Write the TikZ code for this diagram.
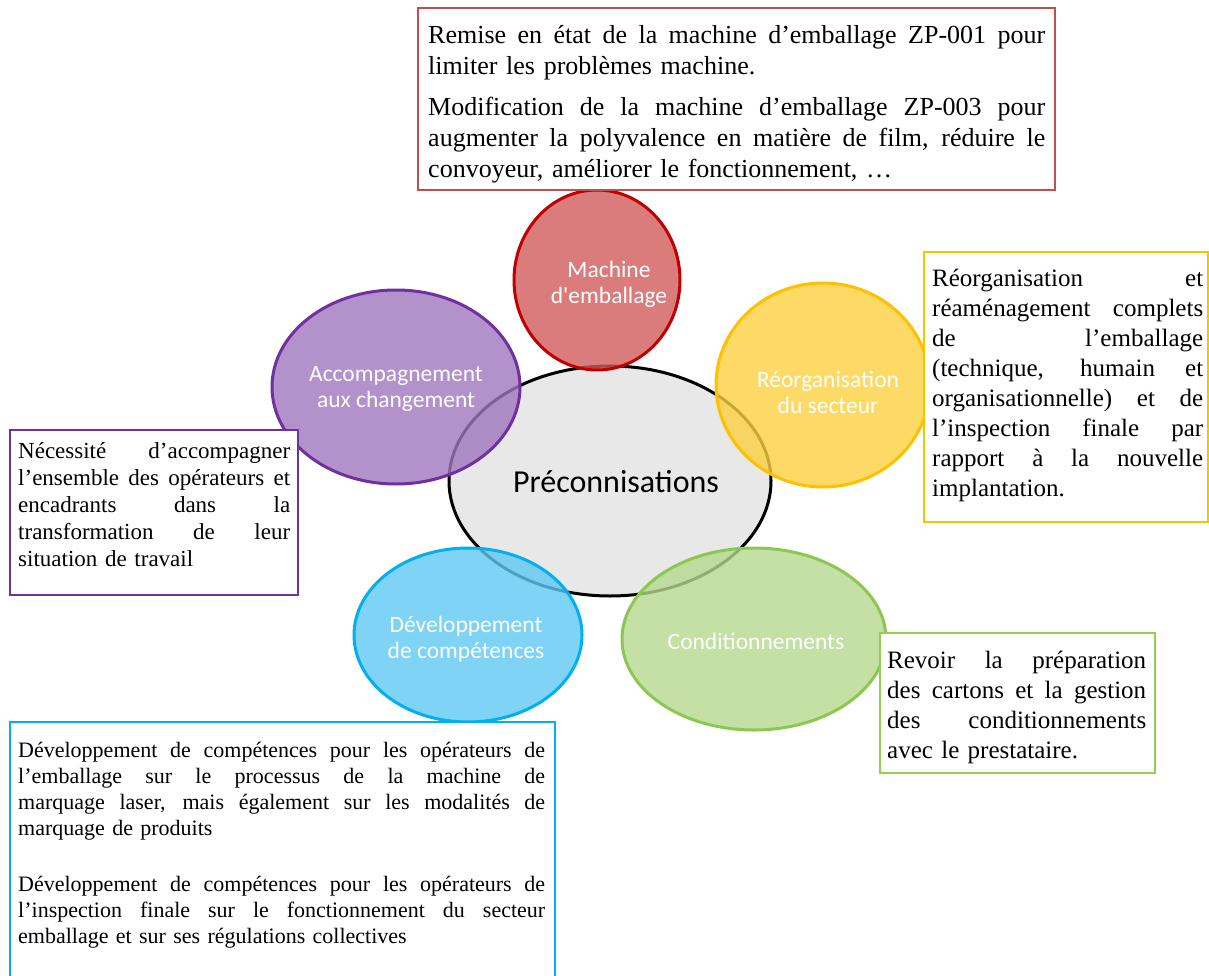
\documentclass[tikz,border=0pt]{standalone}
\usepackage{fontspec}
\setmainfont{Liberation Serif}
\newfontfamily\calibri{Carlito}
\usetikzlibrary{shapes.geometric}
\newlength\jw
\newcommand{\fline}[1]{\hbox to\jw{\spaceskip=0pt\xspaceskip=0pt #1}\par}
\newcommand{\jline}[1]{\par\noindent\hbox to\jw{\spaceskip=0pt\xspaceskip=0pt #1}\par}
\newcommand{\lline}[1]{\par\noindent\hbox{#1}\par}
\definecolor{cRedE}{HTML}{C00000}
\definecolor{cRedF}{RGB}{209,91,91}
\definecolor{cPurE}{HTML}{7030A0}
\definecolor{cPurF}{RGB}{160,119,191}
\definecolor{cYelE}{HTML}{FFC000}
\definecolor{cYelF}{RGB}{253,208,64}
\definecolor{cBluE}{HTML}{00B0F0}
\definecolor{cBluF}{RGB}{95,200,241}
\definecolor{cGreE}{HTML}{8CC751}
\definecolor{cGreF}{RGB}{181,216,141}
\definecolor{cCenF}{HTML}{E8E8E8}
\definecolor{bRed}{HTML}{C0504D}
\definecolor{bPur}{HTML}{7030A0}
\definecolor{bYel}{HTML}{FFC000}
\definecolor{bGre}{HTML}{92D050}
\definecolor{bBlu}{HTML}{00B0F0}
\tikzset{
  bubble/.style={ellipse, inner sep=0pt, line width=3pt, fill opacity=0.8},
  bubbletext/.style={inner sep=0pt, text=white, align=center, font=\calibri\fontsize{23.5}{26}\selectfont},
  framebox/.style={draw, line width=2.5pt, fill=white},
  txt/.style={anchor=base west, inner sep=0pt}
}
\begin{document}
\begin{tikzpicture}[x=1pt,y=-1pt]
\useasboundingbox (0,0) rectangle (1209,976);
% centre
\node[ellipse, draw=black, line width=3pt, fill=cCenF, minimum width=322, minimum height=230] (centre) at (610,481) {};
% bubbles
\node[bubble, draw=cRedE, fill=cRedF, minimum width=166, minimum height=180] (machine) at (597,280) {};
\node[bubble, draw=cPurE, fill=cPurF, minimum width=248, minimum height=194] (accomp) at (396,387) {};
\node[bubble, draw=cYelE, fill=cYelF, minimum width=214, minimum height=204] (reorg) at (823,385) {};
\node[bubble, draw=cBluE, fill=cBluF, minimum width=228, minimum height=174] (dev) at (468,635) {};
\node[bubble, draw=cGreE, fill=cGreF, minimum width=264, minimum height=182] (cond) at (754,639) {};
% labels
\node[inner sep=0pt, font=\calibri\fontsize{32}{36}\selectfont] (centreT) at (616,482) {Préconnisations};
\node[bubbletext] (machineT) at (609,284) {Machine\\d'emballage};
\node[bubbletext] (accompT) at (396,389) {Accompagnement\\aux changement};
\node[bubbletext] (reorgT) at (828,392) {Réorganisation\\du secteur};
\node[bubbletext] (devT) at (466,639) {Développement\\de compétences};
\node[bubbletext] (condT) at (756,641) {Conditionnements};
% boxes
\draw[framebox, draw=bRed] (418,8) rectangle (1055,190);
\draw[framebox, draw=bYel] (924,252) rectangle (1208,522);
\draw[framebox, draw=bPur] (10,430) rectangle (298,595);
\draw[framebox, draw=bGre] (880,633) rectangle (1155,773);
\draw[framebox, draw=bBlu] (10,722) rectangle (555,990);
% box texts
\node[txt, text width=617, font=\fontsize{26}{31}\selectfont] (t1) at (428,44) {%
\setlength\jw{617pt}%
\fline{Remise en état de la machine d’emballage ZP-001 pour}%
\lline{limiter les problèmes machine.}%
\vspace{10pt}%
\jline{Modification de la machine d’emballage ZP-003 pour}%
\jline{augmenter la polyvalence en matière de film, réduire le}%
\lline{convoyeur, améliorer le fonctionnement, …}};
\node[txt, text width=271, font=\fontsize{25}{30}\selectfont] (t2) at (932,286) {%
\setlength\jw{271pt}%
\fline{Réorganisation et}%
\jline{réaménagement complets}%
\jline{de l’emballage}%
\jline{(technique, humain et}%
\jline{organisationnelle) et de}%
\jline{l’inspection finale par}%
\jline{rapport à la nouvelle}%
\lline{implantation.}};
\node[txt, text width=272, font=\fontsize{23}{27}\selectfont] (t3) at (18,458) {%
\setlength\jw{272pt}%
\fline{Nécessité d’accompagner}%
\jline{l’ensemble des opérateurs et}%
\jline{encadrants dans la}%
\jline{transformation de leur}%
\lline{situation de travail}};
\node[txt, text width=259, font=\fontsize{25}{30}\selectfont] (t4) at (887,668) {%
\setlength\jw{259pt}%
\fline{Revoir la préparation}%
\jline{des cartons et la gestion}%
\jline{des conditionnements}%
\lline{avec le prestataire.}};
\node[txt, text width=527, font=\fontsize{22}{26}\selectfont] (t5) at (18,757) {%
\setlength\jw{527pt}%
\fline{Développement de compétences pour les opérateurs de}%
\jline{l’emballage sur le processus de la machine de}%
\jline{marquage laser, mais également sur les modalités de}%
\lline{marquage de produits}%
\vspace{30pt}%
\jline{Développement de compétences pour les opérateurs de}%
\jline{l’inspection finale sur le fonctionnement du secteur}%
\lline{emballage et sur ses régulations collectives}};
\end{tikzpicture}
\end{document}
